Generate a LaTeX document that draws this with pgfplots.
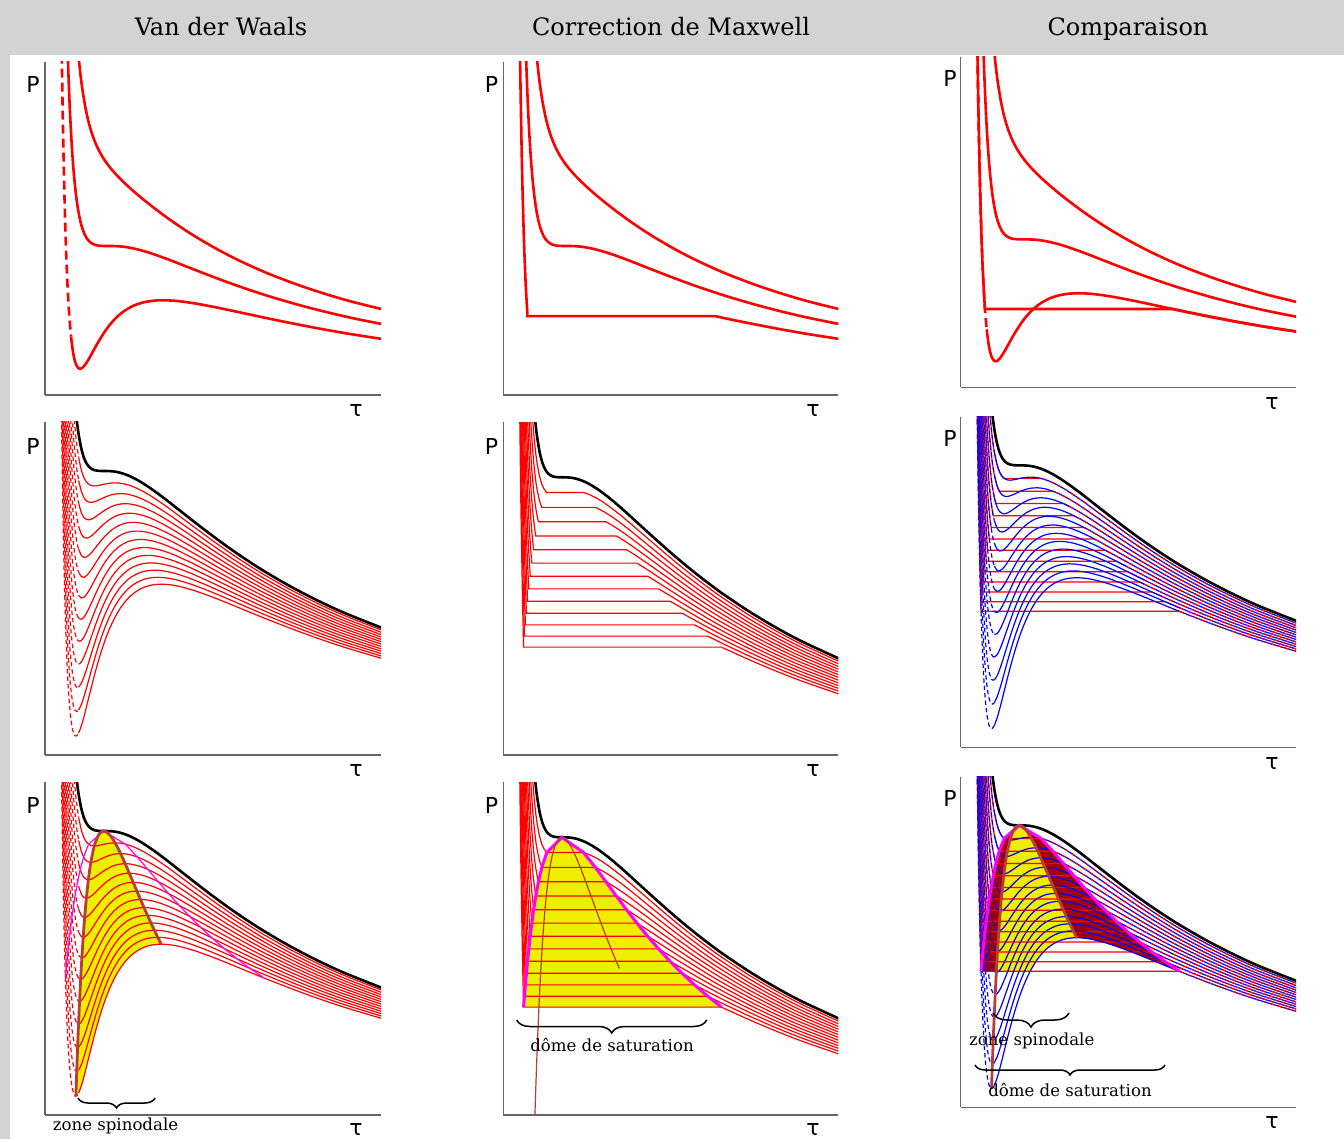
\documentclass[border=0pt]{standalone}
\usepackage{pgfplots}
\pgfplotsset{compat=1.18}
\usepackage{pgfplotstable}
\usepackage{fontspec}
\setmainfont{DejaVu Serif}
\newfontfamily\symf{DejaVu Sans}
\usetikzlibrary{decorations.pathreplacing}
\definecolor{hdr}{RGB}{211,211,211}
\definecolor{dome}{RGB}{238,238,0}
\definecolor{meta}{RGB}{160,0,0}
\definecolor{spin}{RGB}{185,60,60}
\definecolor{mag}{RGB}{255,0,255}

\pgfplotstableread{
v T87 T88 T89 T90 T91 T92 T93 T94 T95 T96 T97 T98 T99 T100 T112
0.46 4.1381 4.3487 4.5592 4.7697 4.9802 5.1907 5.4013 5.6118 5.8223 6.0328 6.2433 6.4539 6.6644 6.8749 9.4012
0.48 2.7974 2.9792 3.1610 3.3428 3.5246 3.7065 3.8883 4.0701 4.2519 4.4337 4.6155 4.7974 4.9792 5.1610 7.3428
0.50 1.92 2.08 2.24 2.40 2.56 2.72 2.88 3.04 3.20 3.36 3.52 3.68 3.84 4.00 5.92
0.52 1.3339 1.4767 1.6196 1.7624 1.9053 2.0481 2.1910 2.3339 2.4767 2.6196 2.7624 2.9053 3.0481 3.1910 4.9053
0.54 0.9377 1.0667 1.1958 1.3248 1.4538 1.5828 1.7119 1.8409 1.9699 2.0990 2.2280 2.3570 2.4861 2.6151 4.1635
0.56 0.6690 0.7866 0.9043 1.0219 1.1396 1.2572 1.3749 1.4925 1.6102 1.7278 1.8455 1.9631 2.0808 2.1984 3.6102
0.58 0.4874 0.5955 0.7036 0.8117 0.9198 1.0279 1.1361 1.2442 1.3523 1.4604 1.5685 1.6766 1.7847 1.8928 3.1901
0.60 0.3667 0.4667 0.5667 0.6667 0.7667 0.8667 0.9667 1.0667 1.1667 1.2667 1.3667 1.4667 1.5667 1.6667 2.8667
0.62 0.2886 0.3817 0.4747 0.5677 0.6607 0.7537 0.8468 0.9398 1.0328 1.1258 1.2188 1.3119 1.4049 1.4979 2.6142
0.64 0.2411 0.3280 0.4150 0.5019 0.5889 0.6758 0.7628 0.8498 0.9367 1.0237 1.1106 1.1976 1.2845 1.3715 2.4150
0.66 0.2150 0.2966 0.3783 0.4599 0.5415 0.6231 0.7048 0.7864 0.8680 0.9497 1.0313 1.1129 1.1946 1.2762 2.2558
0.68 0.2044 0.2813 0.3583 0.4352 0.5121 0.5890 0.6659 0.7429 0.8198 0.8967 0.9736 1.0506 1.1275 1.2044 2.1275
0.70 0.2049 0.2776 0.3503 0.4230 0.4958 0.5685 0.6412 0.7139 0.7867 0.8594 0.9321 1.0048 1.0776 1.1503 2.0230
0.72 0.2130 0.2820 0.3510 0.4199 0.4889 0.5579 0.6268 0.6958 0.7648 0.8337 0.9027 0.9717 1.0406 1.1096 1.9372
0.75 0.2347 0.2987 0.3627 0.4267 0.4907 0.5547 0.6187 0.6827 0.7467 0.8107 0.8747 0.9387 1.0027 1.0667 1.8347
0.78 0.2630 0.3227 0.3824 0.4421 0.5018 0.5615 0.6212 0.6809 0.7406 0.8003 0.8600 0.9197 0.9794 1.0391 1.7555
0.81 0.2946 0.3506 0.4065 0.4624 0.5184 0.5743 0.6303 0.6862 0.7422 0.7981 0.8541 0.9100 0.9660 1.0219 1.6932
0.84 0.3273 0.3799 0.4325 0.4852 0.5378 0.5904 0.6431 0.6957 0.7483 0.8010 0.8536 0.9062 0.9589 1.0115 1.6431
0.87 0.3594 0.4091 0.4588 0.5084 0.5581 0.6078 0.6575 0.7072 0.7569 0.8066 0.8563 0.9060 0.9557 1.0054 1.6017
0.90 0.3904 0.4375 0.4845 0.5316 0.5786 0.6257 0.6728 0.7198 0.7669 0.8139 0.8610 0.9081 0.9551 1.0022 1.5669
0.94 0.4290 0.4729 0.5169 0.5608 0.6048 0.6488 0.6927 0.7367 0.7806 0.8246 0.8685 0.9125 0.9564 1.0004 1.5279
0.98 0.4639 0.5052 0.5464 0.5876 0.6289 0.6701 0.7113 0.7526 0.7938 0.8351 0.8763 0.9175 0.9588 1.0000 1.4948
1.02 0.4951 0.5340 0.5728 0.6117 0.6505 0.6893 0.7282 0.7670 0.8058 0.8447 0.8835 0.9223 0.9612 1.0000 1.4660
1.06 0.5227 0.5594 0.5961 0.6328 0.6694 0.7061 0.7428 0.7795 0.8162 0.8529 0.8896 0.9263 0.9630 0.9997 1.4401
1.10 0.5468 0.5816 0.6164 0.6511 0.6859 0.7207 0.7555 0.7903 0.8251 0.8599 0.8947 0.9294 0.9642 0.9990 1.4164
1.15 0.5724 0.6051 0.6377 0.6704 0.7030 0.7357 0.7683 0.8010 0.8336 0.8663 0.8989 0.9316 0.9642 0.9969 1.3887
1.20 0.5936 0.6243 0.6551 0.6859 0.7166 0.7474 0.7782 0.8090 0.8397 0.8705 0.9013 0.9321 0.9628 0.9936 1.3628
1.26 0.6140 0.6427 0.6715 0.7003 0.7291 0.7579 0.7866 0.8154 0.8442 0.8730 0.9018 0.9305 0.9593 0.9881 1.3334
1.32 0.6295 0.6566 0.6836 0.7106 0.7377 0.7647 0.7917 0.8187 0.8458 0.8728 0.8998 0.9268 0.9539 0.9809 1.3052
1.40 0.6444 0.6694 0.6944 0.7194 0.7444 0.7694 0.7944 0.8194 0.8444 0.8694 0.8944 0.9194 0.9444 0.9694 1.2694
1.48 0.6537 0.6769 0.7002 0.7234 0.7467 0.7699 0.7932 0.8164 0.8397 0.8630 0.8862 0.9095 0.9327 0.9560 1.2351
1.56 0.6586 0.6803 0.7021 0.7238 0.7456 0.7673 0.7890 0.8108 0.8325 0.8542 0.8760 0.8977 0.9195 0.9412 1.2021
1.65 0.6601 0.6803 0.7006 0.7208 0.7411 0.7614 0.7816 0.8019 0.8221 0.8424 0.8626 0.8829 0.9031 0.9234 1.1664
1.75 0.6581 0.6769 0.6957 0.7146 0.7334 0.7522 0.7710 0.7899 0.8087 0.8275 0.8463 0.8651 0.8840 0.9028 1.1287
1.85 0.6530 0.6706 0.6882 0.7058 0.7234 0.7409 0.7585 0.7761 0.7937 0.8113 0.8289 0.8464 0.8640 0.8816 1.0926
2.00 0.642 0.658 0.674 0.690 0.706 0.722 0.738 0.754 0.770 0.786 0.802 0.818 0.834 0.850 1.042
2.20 0.6231 0.6373 0.6516 0.6659 0.6802 0.6945 0.7088 0.7231 0.7374 0.7516 0.7659 0.7802 0.7945 0.8088 0.9802
2.40 0.6018 0.6147 0.6276 0.6405 0.6534 0.6663 0.6792 0.6921 0.7050 0.7179 0.7308 0.7437 0.7566 0.7695 0.9243
2.60 0.5797 0.5915 0.6033 0.6150 0.6268 0.6386 0.6503 0.6621 0.6739 0.6856 0.6974 0.7092 0.7209 0.7327 0.8739
2.80 0.5579 0.5687 0.5795 0.5903 0.6011 0.6119 0.6227 0.6335 0.6443 0.6551 0.6660 0.6768 0.6876 0.6984 0.8281
3.10 0.5264 0.5361 0.5457 0.5553 0.5650 0.5746 0.5843 0.5939 0.6035 0.6132 0.6228 0.6324 0.6421 0.6517 0.7674
3.40 0.4970 0.5057 0.5144 0.5231 0.5318 0.5405 0.5492 0.5579 0.5666 0.5753 0.5840 0.5927 0.6014 0.6101 0.7145
3.70 0.4700 0.4780 0.4859 0.4938 0.5017 0.5096 0.5176 0.5255 0.5334 0.5413 0.5492 0.5572 0.5651 0.5730 0.6681
4.20 0.4299 0.4368 0.4437 0.4506 0.4575 0.4644 0.4713 0.4782 0.4851 0.4920 0.4989 0.5058 0.5127 0.5196 0.6024
}\vdw

\pgfplotstableread{
v P
0.5708 0.5589
0.5807 0.5874
0.5914 0.6167
0.6034 0.6470
0.6158 0.6782
0.6299 0.7102
0.6457 0.7432
0.6634 0.7771
0.6839 0.8119
0.7080 0.8476
0.7374 0.8843
0.7755 0.9219
0.8309 0.9605
1.0000 1.0000
1.2429 0.9605
1.3759 0.9219
1.4957 0.8843
1.6112 0.8476
1.7263 0.8119
1.8429 0.7771
1.9624 0.7432
2.0858 0.7102
2.2141 0.6782
2.3488 0.6470
2.4885 0.6167
2.6365 0.5874
2.7927 0.5589
}\binod

\pgfplotstableread{
v P
0.5708 0.5589
0.5807 0.5874
0.5914 0.6167
0.6034 0.6470
0.6158 0.6782
0.6299 0.7102
0.6457 0.7432
0.6634 0.7771
0.6839 0.8119
0.7080 0.8476
0.7374 0.8843
0.7755 0.9219
0.8309 0.9605
1.0000 1.0000
1.2429 0.9605
1.3759 0.9219
1.4957 0.8843
1.6112 0.8476
1.7263 0.8119
1.8429 0.7771
1.9624 0.7432
2.0858 0.7102
2.2141 0.6782
2.3488 0.6470
2.4885 0.6167
2.6365 0.5874
2.7927 0.5589
2.60 0.5797
2.40 0.6018
2.20 0.6231
2.00 0.642
1.85 0.6530
1.75 0.6581
1.65 0.6601
1.56 0.6586
1.48 0.6537
1.40 0.6444
1.32 0.6295
1.26 0.6140
1.20 0.5936
1.15 0.5724
1.1225 0.5589
}\metafill

\pgfplotstableread{
v P
0.6887 0.2024
0.70 0.2915
0.71 0.3632
0.72 0.4287
0.74 0.5429
0.75 0.5926
0.76 0.6378
0.78 0.7165
0.80 0.7813
0.83 0.8570
0.86 0.9119
0.90 0.9602
0.95 0.9914
1.00 1.0000
1.05 0.9934
1.10 0.9767
1.15 0.9534
1.20 0.9259
1.25 0.8960
1.30 0.8648
1.35 0.8332
1.40 0.8017
1.45 0.7708
1.50 0.7407
1.55 0.7116
1.60 0.6836
1.645 0.6593
}\spinod

\pgfplotstableread{
v P
0.6887 0.2024
0.70 0.2915
0.71 0.3632
0.72 0.4287
0.74 0.5429
0.75 0.5926
0.76 0.6378
0.78 0.7165
0.80 0.7813
0.83 0.8570
0.86 0.9119
0.90 0.9602
0.95 0.9914
1.00 1.0000
1.05 0.9934
1.10 0.9767
1.15 0.9534
1.20 0.9259
1.25 0.8960
1.30 0.8648
1.35 0.8332
1.40 0.8017
1.45 0.7708
1.50 0.7407
1.55 0.7116
1.60 0.6836
1.645 0.6593
1.56 0.6586
1.48 0.6537
1.40 0.6444
1.32 0.6295
1.26 0.6140
1.20 0.5936
1.15 0.5724
1.10 0.5468
1.06 0.5227
1.02 0.4951
0.98 0.4639
0.94 0.4290
0.90 0.3904
0.87 0.3594
0.84 0.3273
0.81 0.2946
0.78 0.2630
0.75 0.2347
0.72 0.2130
0.70 0.2049
}\spinfillA

\pgfplotstableread{
v P
0.7431 0.5589
0.75 0.5926
0.76 0.6378
0.78 0.7165
0.80 0.7813
0.83 0.8570
0.86 0.9119
0.90 0.9602
0.95 0.9914
1.00 1.0000
1.05 0.9934
1.10 0.9767
1.15 0.9534
1.20 0.9259
1.25 0.8960
1.30 0.8648
1.35 0.8332
1.40 0.8017
1.45 0.7708
1.50 0.7407
1.55 0.7116
1.60 0.6836
1.645 0.6593
1.56 0.6586
1.48 0.6537
1.40 0.6444
1.32 0.6295
1.26 0.6140
1.20 0.5936
1.15 0.5724
1.1225 0.5589
}\spinfillC

\newcommand{\mxall}[1]{%
#1{T99}{0.8309}{0.9605}{1.2429}{0.81}{0.9660}{1.26}{0.9593}%
#1{T98}{0.7755}{0.9219}{1.3759}{0.75}{0.9387}{1.40}{0.9194}%
#1{T97}{0.7374}{0.8843}{1.4957}{0.72}{0.9027}{1.56}{0.8760}%
#1{T96}{0.7080}{0.8476}{1.6112}{0.70}{0.8594}{1.65}{0.8424}%
#1{T95}{0.6839}{0.8119}{1.7263}{0.68}{0.8198}{1.75}{0.8087}%
#1{T94}{0.6634}{0.7771}{1.8429}{0.66}{0.7864}{1.85}{0.7761}%
#1{T93}{0.6457}{0.7432}{1.9624}{0.64}{0.7628}{2.00}{0.7380}%
#1{T92}{0.6299}{0.7102}{2.0858}{0.62}{0.7537}{2.20}{0.6945}%
#1{T91}{0.6158}{0.6782}{2.2141}{0.60}{0.7667}{2.40}{0.6534}%
#1{T90}{0.6034}{0.6470}{2.3488}{0.60}{0.6667}{2.40}{0.6405}%
#1{T89}{0.5914}{0.6167}{2.4885}{0.58}{0.7036}{2.60}{0.6033}%
#1{T88}{0.5807}{0.5874}{2.6365}{0.58}{0.5955}{2.80}{0.5687}%
#1{T87}{0.5708}{0.5589}{2.7927}{0.56}{0.6690}{2.80}{0.5579}%
}
\newcommand{\mxA}[8]{%
\addplot[mxs,smooth] table[x=v,y=#1,restrict x to domain=0.3:#2]{\vdw};
\addplot[mxs] coordinates {(#5,#6) (#2,#3) (#4,#3) (#7,#8)};
}
\newcommand{\mxB}[8]{%
\addplot[mxg,smooth] table[x=v,y=#1,restrict x to domain=#4:5]{\vdw};
}
\newcommand{\vdwfam}[1]{%
\pgfplotsinvokeforeach{87,88,89,90,91,92,93,94,95,96,97,98,99}{%
\addplot[#1,line width=0.6pt,dash pattern=on 2.2pt off 1.5pt,smooth] table[x=v,y=T##1,restrict x to domain=0.3:0.721]{\vdw};
\addplot[#1,line width=0.6pt,smooth] table[x=v,y=T##1,restrict x to domain=0.719:5]{\vdw};
}}
\newcommand{\topthree}{%
\addplot[red,line width=1.3pt,smooth] table[x=v,y=T112]{\vdw};
\addplot[red,line width=1.3pt,smooth] table[x=v,y=T100]{\vdw};
}
\newcommand{\lowvdw}{%
\addplot[red,line width=1.3pt,dash pattern=on 4.5pt off 2.5pt,smooth] table[x=v,y=T88,restrict x to domain=0.3:0.601]{\vdw};
\addplot[red,line width=1.3pt,smooth] table[x=v,y=T88,restrict x to domain=0.599:5]{\vdw};
}
\newcommand{\crit}{\addplot[black,line width=1.3pt,smooth] table[x=v,y=T100]{\vdw};}

\pgfplotsset{
 pan/.style={scale only axis, axis lines=left, axis line style={-, draw=black!60, line width=0.75pt},
   xtick=\empty, ytick=\empty, xmin=0.3434, xmax=4.102, anchor=south west, clip=true},
 rowA/.style={xmin=0.3155, xmax=3.9877, ymin=0.1235, ymax=2.0824},
 rowV/.style={ymin=0.14715, ymax=1.14715},
 rowM/.style={ymin=0.2787, ymax=1.1436},
 c1/.style={width=168pt, height=166.5pt},
 c2/.style={width=167.5pt, height=166.5pt},
 c3/.style={width=167.65pt, height=165.3pt},
}
\newcommand{\lab}{\symf\fontsize{11}{13}\selectfont}
\newcommand{\txt}{\fontsize{8.3}{10}\selectfont}
\newcommand{\ttl}{\fontsize{12}{14}\selectfont}

\begin{document}
\begin{tikzpicture}
\begin{scope}[x=0.5pt,y=0.5pt]
\useasboundingbox (0,0) rectangle (1344,1139);
\fill[white] (0,0) rectangle (1344,1139);
\end{scope}

% ---------- row 1 ----------
\begin{axis}[pan,rowA,c1,at={(22.5pt,372pt)}]
\topthree
\lowvdw
\end{axis}
\tikzset{mxs/.style={red,line width=1.3pt}, mxg/.style={red,line width=1.3pt}}
\begin{axis}[pan,rowA,c2,at={(251.65pt,372pt)}]
\topthree
\mxA{T88}{0.5807}{0.5874}{2.6365}{0.58}{0.5955}{2.80}{0.5687}
\mxB{T88}{0.5807}{0.5874}{2.6365}{0.58}{0.5955}{2.80}{0.5687}
\end{axis}
\begin{axis}[pan,rowA,c3,at={(480.35pt,375.85pt)}]
\topthree
\lowvdw
\mxA{T88}{0.5807}{0.5874}{2.6365}{0.58}{0.5955}{2.80}{0.5687}
\mxB{T88}{0.5807}{0.5874}{2.6365}{0.58}{0.5955}{2.80}{0.5687}
\end{axis}

% ---------- row 2 ----------
\tikzset{mxs/.style={red,line width=0.6pt}, mxg/.style={red,line width=0.6pt}}
\begin{axis}[pan,rowV,c1,at={(22.5pt,192pt)}]
\vdwfam{red}
\crit
\end{axis}
\begin{axis}[pan,rowM,c2,at={(251.65pt,192pt)}]
\mxall\mxA
\mxall\mxB
\crit
\end{axis}
\tikzset{mxg/.style={red,line width=0.6pt,dash pattern=on 2pt off 2pt}}
\begin{axis}[pan,rowV,c3,at={(480.35pt,195.85pt)}]
\mxall\mxA
\vdwfam{blue}
\mxall\mxB
\crit
\end{axis}

% ---------- row 3 ----------
\tikzset{mxs/.style={red,line width=0.6pt}, mxg/.style={red,line width=0.6pt}}
\begin{axis}[pan,rowV,c1,at={(22.5pt,12pt)}]
\addplot[fill=dome,draw=none] table[x=v,y=P]{\spinfillA} -- cycle;
\vdwfam{red}
\crit
\addplot[mag,line width=0.6pt] table[x=v,y=P]{\binod};
\addplot[spin,line width=1.4pt,smooth] table[x=v,y=P]{\spinod};
\end{axis}
\begin{axis}[pan,rowM,c2,at={(251.65pt,12pt)}]
\addplot[fill=dome,draw=none] table[x=v,y=P]{\binod} -- cycle;
\mxall\mxA
\mxall\mxB
\crit
\addplot[mag,line width=1.5pt] table[x=v,y=P]{\binod};
\addplot[spin,line width=0.6pt,smooth] table[x=v,y=P]{\spinod};
\end{axis}
\tikzset{mxg/.style={red,line width=0.6pt,dash pattern=on 2pt off 2pt}}
\begin{axis}[pan,rowV,c3,at={(480.35pt,15.85pt)}]
\addplot[fill=meta,draw=none] table[x=v,y=P]{\metafill} -- cycle;
\addplot[fill=dome,draw=none] table[x=v,y=P]{\spinfillC} -- cycle;
\mxall\mxA
\vdwfam{blue}
\mxall\mxB
\crit
\addplot[mag,line width=1.5pt] table[x=v,y=P]{\binod};
\addplot[spin,line width=1.4pt,smooth] table[x=v,y=P]{\spinod};
\end{axis}

\begin{scope}[x=0.5pt,y=0.5pt]
% ---------- header ----------
\fill[hdr] (0,1084) rectangle (1344,1139);
\fill[hdr] (0,0) rectangle (10,1084);
\node[font=\ttl,anchor=base] at (221,1103) {Van der Waals};
\node[font=\ttl,anchor=base] at (671,1103) {Correction de Maxwell};
\node[font=\ttl,anchor=base] at (1128,1103) {Comparaison};

% ---------- axis labels ----------
\foreach \x/\y in {33/1055,491.5/1055,950/1061,33/693,491.5/693,950/700.5,33/334,491.5/334,950/340.5}
  \node[font=\lab] at (\x,\y) {P};
\foreach \x/\y in {356/729,813/729,1272/736,356/369,813/369,1272/376,356/10,813/10,1272/17}
  \node[font=\lab] at (\x,\y) {τ};

% ---------- braces ----------
\draw[line width=0.75pt,decorate,decoration={brace,mirror,amplitude=5pt}] (78,41) -- (155,41);
\node[font=\txt,anchor=base] at (115.5,9) {zone spinodale};
\draw[line width=0.75pt,decorate,decoration={brace,mirror,amplitude=6.5pt}] (516.7,119) -- (706.7,119);
\node[font=\txt,anchor=base] at (612,87.3) {dôme de saturation};
\draw[line width=0.75pt,decorate,decoration={brace,mirror,amplitude=7pt}] (993,126) -- (1069,126);
\node[font=\txt,anchor=base] at (1031.7,93.3) {zone spinodale};
\draw[line width=0.75pt,decorate,decoration={brace,mirror,amplitude=5pt}] (975,74) -- (1165,74);
\node[font=\txt,anchor=base] at (1070,43) {dôme de saturation};
\end{scope}
\end{tikzpicture}
\end{document}
